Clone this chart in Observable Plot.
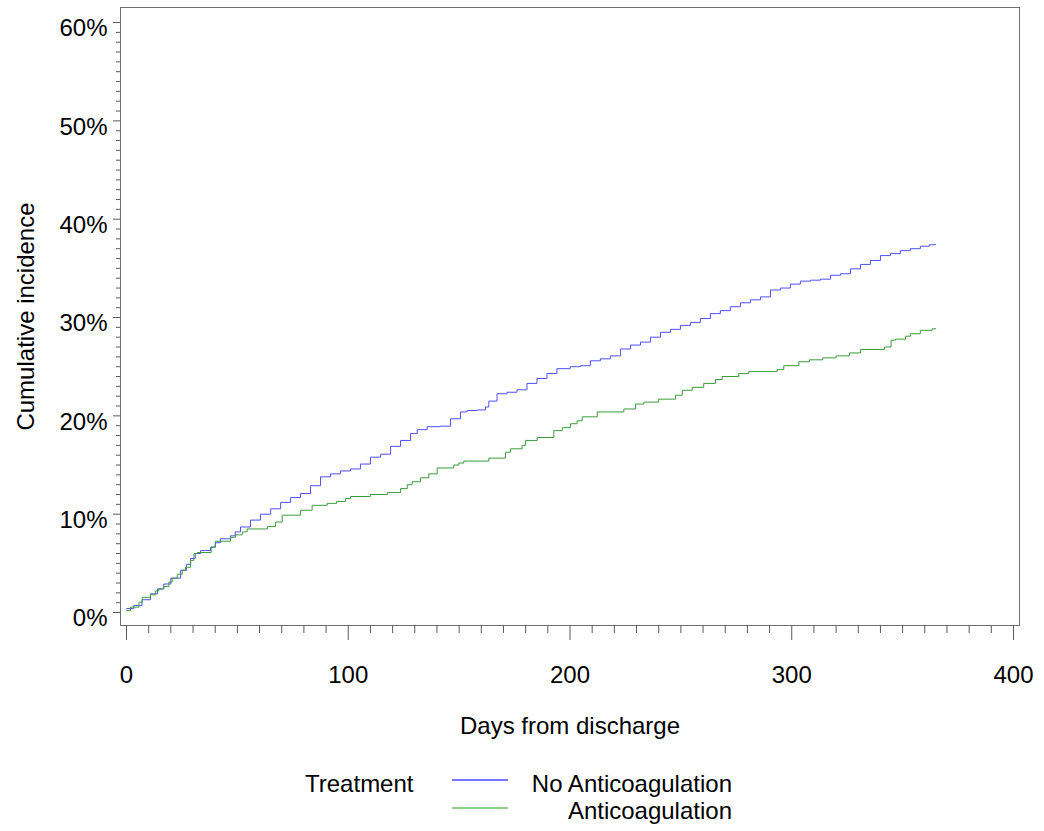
<!DOCTYPE html>
<html><head><meta charset="utf-8">
<script src="https://cdn.jsdelivr.net/npm/d3@7"></script>
<script src="https://cdn.jsdelivr.net/npm/@observablehq/plot@0.6"></script>
<style>
body{margin:0;background:#fff;font-family:"Liberation Sans",Arial,sans-serif;}
#wrap{position:relative;width:1044px;height:831px;overflow:hidden;}
#chart{position:absolute;left:0;top:0;}
#legend{position:absolute;left:0;top:750px;width:1044px;height:81px;}
#legend svg{position:absolute;left:0;top:0;}
.swatch{position:absolute;height:2px;width:56px;left:452px;}
</style></head><body><div id="wrap"><div id="chart"></div><div id="legend"></div></div>
<script>
const seriesNames = ["No Anticoagulation", "Anticoagulation"];
const seriesColors = ["#4f4fff", "#3c9c3c"];
const legendColors = ["#7373ff", "#8fd08f"];
const legendTitle = "Treatment";
const xAxisLabel = "Days from discharge";
const yAxisLabel = "Cumulative incidence";

const noAntiDays = [0,3.3,7,10.8,14,16.8,20,24.4,27,28.9,31,33.4,37.9,40,42.4,46.9,49,51.4,55.9,60.4,65,69.5,74,78.5,83,87.5,92,96.5,101,105.5,110,114.6,119.1,123.6,128.1,131.1,135.6,141.6,146.1,150.6,153.6,158.1,161.9,163.4,167.1,171.6,176.1,180.6,185.1,189.6,194.1,200.1,204.7,209.2,213.7,218.2,222.8,227.3,231.8,236.3,240.8,245.3,249.8,254.3,258.8,263.3,267.8,272.3,276.9,281.4,285.9,290.4,294.9,299.4,303.9,308.5,313,317.5,322,326.5,331,335.5,340,344.5,349,353.5,358,362,364.8];
const noAntiPct = [0.4,0.7,1.3,1.9,2.4,2.9,3.5,4.3,4.9,5.5,6.0,6.3,6.65,7.1,7.5,7.8,8.2,8.7,9.4,10.0,10.55,11.2,11.7,12.1,12.9,13.8,14.1,14.4,14.6,15.1,15.8,16.1,16.9,17.5,18.2,18.6,18.9,18.95,19.7,20.4,20.55,20.6,20.9,21.5,22.25,22.4,22.65,23.3,23.8,24.3,24.8,25.0,25.1,25.6,25.8,26.1,26.8,27.2,27.5,28.0,28.5,28.8,29.2,29.5,29.9,30.4,30.7,31.1,31.5,31.8,32.1,32.8,33.0,33.4,33.7,33.8,33.9,34.3,34.45,34.95,35.4,35.8,36.3,36.5,36.8,37.0,37.25,37.4,37.45];

const antiDays = [0,1.8,5.6,7.1,10.8,13.1,14.6,16.8,19.1,20.6,22.9,25.1,26.6,28.9,30.4,31.9,38.2,40.1,46.9,49.2,52.2,54.4,63.5,67.2,70.2,78.5,83.7,90.5,94.7,98.8,101,110,117.6,123.6,126.6,128.8,132.6,136.3,140.1,147.6,149.9,152.1,163.4,170.9,173.2,178.4,179.9,185.2,192.7,196.5,200.2,203.2,205.5,212.3,224.3,229.5,233.3,240,247.6,250.6,255.1,260.3,265.6,268.6,276.1,280.6,293.4,296.4,303.2,308,314,320,326,331,341.8,344.8,346.8,351.3,353.5,358,363.3,364.8];
const antiPct = [0.2,0.55,1.05,1.55,1.8,2.2,2.4,2.65,3.1,3.5,3.9,4.3,4.6,5.3,6.0,6.1,6.65,7.25,7.65,7.9,8.2,8.5,8.75,9.2,9.9,10.4,10.9,11.1,11.3,11.6,11.8,12.0,12.2,12.6,13.0,13.3,13.7,14.1,14.7,15.0,15.2,15.4,15.7,16.3,16.65,17.0,17.5,17.8,18.5,18.8,19.2,19.5,19.9,20.4,20.7,21.2,21.4,21.7,22.1,22.6,22.9,23.3,23.7,24.0,24.3,24.5,24.7,25.1,25.5,25.7,25.9,26.1,26.4,26.75,27.0,27.7,27.8,28.1,28.35,28.7,28.85,28.9];

const xMajorTicks = [0, 100, 200, 300, 400];
const xMinorTicks = d3.range(0, 401, 10).filter(d => d % 100 !== 0);
const yMajorTicks = [0, 10, 20, 30, 40, 50, 60];
const yMinorTicks = d3.range(0, 61, 1).filter(d => d % 10 !== 0);

const rows = [
  ...noAntiDays.map((d, i) => ({day: d, pct: noAntiPct[i], group: seriesNames[0]})),
  ...antiDays.map((d, i) => ({day: d, pct: antiPct[i], group: seriesNames[1]}))
];

const tickColor = "#5a5a5a";
const chart = Plot.plot({
  width: 1044, height: 750,
  marginLeft: 120, marginRight: 25, marginTop: 7, marginBottom: 125,
  x: {domain: [-2.71, 402.71], label: null},
  y: {domain: [-1.32, 61.53], label: null},
  color: {domain: seriesNames, range: seriesColors},
  style: {fontFamily: "'Liberation Sans', Arial, sans-serif", fontSize: "24px", color: "#000", background: "#fff"},
  marks: [
    Plot.frame({stroke: "#6e6e6e"}),
    Plot.axisX({ticks: xMinorTicks, tickSize: 8, tickFormat: () => "", stroke: tickColor, label: null}),
    Plot.axisX({ticks: xMajorTicks, tickSize: 15, tickPadding: 25, stroke: tickColor, fill: "#000", fontSize: 24, tickFormat: d => String(d), label: null}),
    Plot.axisY({ticks: yMinorTicks, tickSize: 4, tickFormat: () => "", stroke: tickColor, label: null}),
    Plot.axisY({ticks: yMajorTicks, tickSize: 7, tickFormat: () => "", stroke: tickColor, label: null}),
    Plot.axisY({ticks: yMajorTicks, tickSize: 0, tickPadding: 13, dy: 6, fill: "#000", fontSize: 24, tickFormat: d => d + "%", label: null}),
    Plot.text([xAxisLabel], {text: d => d, frameAnchor: "bottom", dy: 108, lineAnchor: "bottom", textAnchor: "middle", fontSize: 24, fill: "#000"}),
    Plot.text([yAxisLabel], {text: d => d, frameAnchor: "left", dx: -87, rotate: -90, lineAnchor: "bottom", textAnchor: "middle", fontSize: 24, fill: "#000"}),
    Plot.line(rows, {x: "day", y: "pct", z: "group", stroke: "group", curve: "step-after", strokeWidth: 1})
  ]
});
document.getElementById("chart").appendChild(chart);

// legend below the plot
const legend = d3.select("#legend");
const lg = legend.append("svg").attr("width", 1044).attr("height", 81)
  .style("font-family", "'Liberation Sans', Arial, sans-serif").style("font-size", "24px");
lg.append("text").attr("x", 305).attr("y", 42).text(legendTitle);
seriesNames.forEach((name, i) => {
  legend.append("div").attr("class", "swatch")
    .style("top", (28.5 + i * 28) + "px")
    .style("background", legendColors[i]);
  lg.append("text").attr("x", 732).attr("y", 42 + i * 27).attr("text-anchor", "end").text(name);
});
</script></body></html>
